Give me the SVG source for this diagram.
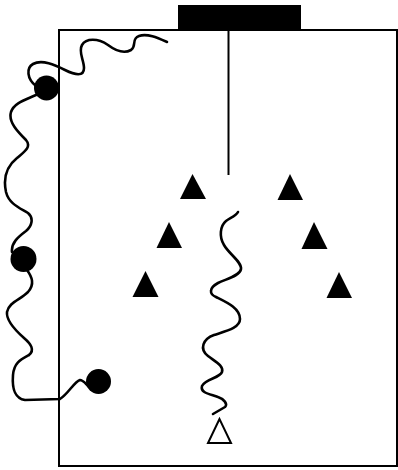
<svg xmlns="http://www.w3.org/2000/svg" width="398" height="470" viewBox="0 0 398 470">
<style>
.frame{fill:none;stroke:#000;stroke-width:2}
.wave{fill:none;stroke:#000;stroke-width:2.6;stroke-linecap:round;stroke-linejoin:round}
.cone{fill:#000}
.ball{fill:#000}
.open{fill:#fff;stroke:#000;stroke-width:2}
</style>
<rect width="398" height="470" fill="#fff"/>
<g id="field">
<rect class="frame" x="59" y="30" width="338" height="436"/>
</g>
<g id="goal"><rect x="178" y="5" width="123" height="25" fill="#000"/></g>
<g id="cones">
<polygon class="cone" points="192.5,174 180,199 206,199"/>
<polygon class="cone" points="290,174 277.5,200 303,200"/>
<polygon class="cone" points="169,222 156.5,248 182,248"/>
<polygon class="cone" points="314,222 301.5,249 327.5,249"/>
<polygon class="cone" points="145.5,271 132.5,297 158.5,297"/>
<polygon class="cone" points="339,272 326.5,298 352,298"/>
</g>
<g id="start"><polygon class="open" points="219.5,419 208,443 231,443"/></g>
<g id="players">
<circle class="ball" cx="46.5" cy="88" r="12.5"/>
<circle class="ball" cx="23.5" cy="259" r="13"/>
<circle class="ball" cx="98.5" cy="381.5" r="12.5"/>
</g>
<g id="connectors">
<line x1="228.5" y1="30" x2="228.5" y2="175" stroke="#000" stroke-width="2"/>
<path class="wave" d="M36,86 C27,79 26,68 33,64 C42,59 55,65 65,70 C75,75 84,77 84,68 C84,60 78,52 82,45 C86,38 98,38 108,45 C116,51 124,54 131,50 C137,46 131,39 139,36 C147,33 158,38 167,42"/>
<path class="wave" d="M36,95 C25,100 14,103 11,112 C8,122 18,132 26,140 C32,147 24,152 17,158 C7,166 3,178 6,192 C9,204 20,208 28,213 C34,218 32,226 26,231 C18,237 11,243 12,252"/>
<path class="wave" d="M27,270 C32,277 35,284 28,292 C20,300 9,302 7,312 C6,320 15,330 24,338 C31,344 35,350 29,355 C20,360 14,363 13,375 C12,388 14,398 25,400 L60,399 C68,394 74,382 80,380 C83,380 85,383 88,386"/>
<path class="wave" d="M238,212 C236,216 230,218 226,221 C220,226 219,237 224,245 C229,254 242,262 241,269 C240,276 226,279 218,283 C209,288 209,294 216,297 C226,302 240,308 240,319 C240,328 226,331 214,335 C203,339 199,349 208,356 C216,362 224,366 222,372 C220,378 205,379 202,386 C200,393 210,394 218,397 C224,399 228,404 225,407 L213,414"/>
</g>
</svg>
